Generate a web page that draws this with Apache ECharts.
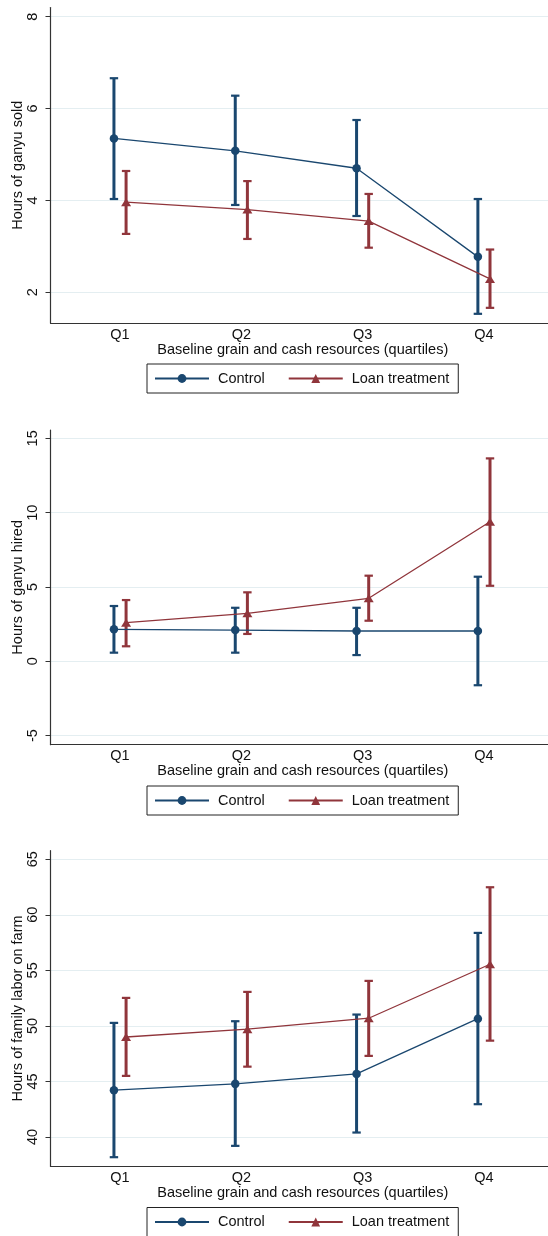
<!DOCTYPE html>
<html>
<head>
<meta charset="utf-8">
<script src="https://cdn.jsdelivr.net/npm/echarts@6/dist/echarts.min.js"></script>
<style>
html,body{margin:0;padding:0;background:#fff;}
#chart{width:548px;height:1236px;}
</style>
</head>
<body>
<div id="chart"></div>
<script>
// ---- data ----
var categories = ['Q1', 'Q2', 'Q3', 'Q4'];
var xTitle = 'Baseline grain and cash resources (quartiles)';
var seriesNames = ['Control', 'Loan treatment'];

var soldControl     = [5.35, 5.08, 4.70, 2.77];
var soldControlLow  = [4.03, 3.90, 3.66, 1.53];
var soldControlHigh = [6.66, 6.28, 5.75, 4.03];
var soldLoan        = [3.96, 3.80, 3.55, 2.29];
var soldLoanLow     = [3.27, 3.16, 2.97, 1.66];
var soldLoanHigh    = [4.64, 4.42, 4.14, 2.93];
var soldTicks       = [2, 4, 6, 8];

var hiredControl     = [2.15, 2.10, 2.04, 2.04];
var hiredControlLow  = [0.58, 0.58, 0.42, -1.61];
var hiredControlHigh = [3.72, 3.60, 3.60, 5.69];
var hiredLoan        = [2.60, 3.23, 4.24, 9.39];
var hiredLoanLow     = [1.01, 1.84, 2.73, 5.08];
var hiredLoanHigh    = [4.12, 4.64, 5.76, 13.65];
var hiredTicks       = [-5, 0, 5, 10, 15];

var laborControl     = [44.21, 44.78, 45.68, 50.65];
var laborControlLow  = [38.18, 39.20, 40.40, 42.95];
var laborControlHigh = [50.27, 50.42, 51.02, 58.37];
var laborLoan        = [49.00, 49.70, 50.69, 55.55];
var laborLoanLow     = [45.50, 46.33, 47.30, 48.67];
var laborLoanHigh    = [52.52, 53.06, 54.05, 62.48];
var laborTicks       = [40, 45, 50, 55, 60, 65];

// ---- styles ----
var NAVY = '#1a476f', MAROON = '#90353b';
var FONT = '"Liberation Sans", Arial, Helvetica, sans-serif';
var TXT = '#111';
var FS = 14.5;
var OFFSET = 0.05;

var panels = [
  {title: 'Hours of ganyu sold', ctl: soldControl, ctlLo: soldControlLow, ctlHi: soldControlHigh,
   loan: soldLoan, loanLo: soldLoanLow, loanHi: soldLoanHigh, ticks: soldTicks,
   ymin: 1.33, ymax: 8.20, top: 7.5, height: 315.5, legendTop: 364},
  {title: 'Hours of ganyu hired', ctl: hiredControl, ctlLo: hiredControlLow, ctlHi: hiredControlHigh,
   loan: hiredLoan, loanLo: hiredLoanLow, loanHi: hiredLoanHigh, ticks: hiredTicks,
   ymin: -5.61, ymax: 15.56, top: 430, height: 314.7, legendTop: 786},
  {title: 'Hours of family labor on farm', ctl: laborControl, ctlLo: laborControlLow, ctlHi: laborControlHigh,
   loan: laborLoan, loanLo: laborLoanLow, loanHi: laborLoanHigh, ticks: laborTicks,
   ymin: 37.36, ymax: 65.77, top: 850.7, height: 315.6, legendTop: 1207.5}
];

function errRender(params, api) {
  var x = api.value(0), lo = api.value(1), hi = api.value(2);
  var pLo = api.coord([x, lo]), pHi = api.coord([x, hi]);
  var hw = 4.2;
  var style = {stroke: api.visual('color'), lineWidth: 3, fill: null};
  var cap = {stroke: api.visual('color'), lineWidth: 2.2, fill: null};
  return {type: 'group', children: [
    {type: 'line', shape: {x1: pLo[0], y1: pLo[1], x2: pHi[0], y2: pHi[1]}, style: style},
    {type: 'line', shape: {x1: pLo[0] - hw, y1: pLo[1], x2: pLo[0] + hw, y2: pLo[1]}, style: cap},
    {type: 'line', shape: {x1: pHi[0] - hw, y1: pHi[1], x2: pHi[0] + hw, y2: pHi[1]}, style: cap}
  ]};
}

var grid = [], xAxis = [], yAxis = [], series = [], legend = [];
panels.forEach(function (p, i) {
  grid.push({left: 50.5, right: 0, top: p.top, height: p.height,
    containLabel: false, outerBoundsMode: 'none'});
  xAxis.push({
    type: 'value', gridIndex: i, min: 0.427, max: 4.528,
    name: xTitle, nameLocation: 'middle', nameGap: 19, nameMoveOverlap: false,
    nameTextStyle: {fontFamily: FONT, fontSize: FS, color: TXT, padding: [0, 0, 0, 7]},
    axisLine: {show: true, onZero: false, lineStyle: {color: '#333', width: 1.2}},
    axisTick: {show: false},
    splitLine: {show: false},
    axisLabel: {customValues: [1, 2, 3, 4], margin: 4, fontFamily: FONT, fontSize: FS, color: TXT,
      formatter: function (v) { return categories[Math.round(v) - 1] || ''; }}
  });
  yAxis.push({
    type: 'value', gridIndex: i, min: p.ymin, max: p.ymax,
    name: p.title, nameLocation: 'middle', nameGap: 25, nameRotate: 90, nameMoveOverlap: false,
    nameTextStyle: {fontFamily: FONT, fontSize: FS, color: TXT},
    axisLine: {show: true, onZero: false, lineStyle: {color: '#333', width: 1.2}},
    axisTick: {show: true, customValues: p.ticks, length: 5, lineStyle: {color: '#333', width: 1}},
    splitLine: {show: true, lineStyle: {color: '#e4eef1', width: 1}},
    axisLabel: {customValues: p.ticks, rotate: 90, margin: 10, fontFamily: FONT, fontSize: FS, color: TXT}
  });
  var ctlPts = p.ctl.map(function (v, k) { return [k + 1 - OFFSET, v]; });
  var loanPts = p.loan.map(function (v, k) { return [k + 1 + OFFSET, v]; });
  var ctlErr = p.ctl.map(function (v, k) { return [k + 1 - OFFSET, p.ctlLo[k], p.ctlHi[k]]; });
  var loanErr = p.loan.map(function (v, k) { return [k + 1 + OFFSET, p.loanLo[k], p.loanHi[k]]; });
  series.push({
    name: 'Control CI ' + i, type: 'custom', xAxisIndex: i, yAxisIndex: i,
    renderItem: errRender, itemStyle: {color: NAVY}, encode: {x: 0, y: [1, 2]}, data: ctlErr, z: 2
  });
  series.push({
    name: 'Loan CI ' + i, type: 'custom', xAxisIndex: i, yAxisIndex: i,
    renderItem: errRender, itemStyle: {color: MAROON}, encode: {x: 0, y: [1, 2]}, data: loanErr, z: 2
  });
  series.push({
    name: seriesNames[0], type: 'line', xAxisIndex: i, yAxisIndex: i, data: ctlPts,
    symbol: 'circle', symbolSize: 8.5, showAllSymbol: true,
    lineStyle: {color: NAVY, width: 1.3}, itemStyle: {color: NAVY}, z: 3
  });
  series.push({
    name: seriesNames[1], type: 'line', xAxisIndex: i, yAxisIndex: i, data: loanPts,
    symbol: 'triangle', symbolSize: [10, 8], showAllSymbol: true,
    lineStyle: {color: MAROON, width: 1.3}, itemStyle: {color: MAROON}, z: 3
  });
  legend.push({
    data: seriesNames, left: 147, top: p.legendTop, orient: 'horizontal',
    padding: [7, 9, 7, 7], itemGap: 23, itemWidth: 54, itemHeight: 11,
    borderColor: '#222', borderWidth: 1, selectedMode: false,
    textStyle: {fontFamily: FONT, fontSize: FS, color: TXT, padding: [0, 0, 0, 4]}
  });
});

var chart = echarts.init(document.getElementById('chart'), null, {renderer: 'canvas'});
chart.setOption({
  animation: false,
  backgroundColor: '#fff',
  grid: grid, xAxis: xAxis, yAxis: yAxis, series: series, legend: legend
});
</script>
</body>
</html>
